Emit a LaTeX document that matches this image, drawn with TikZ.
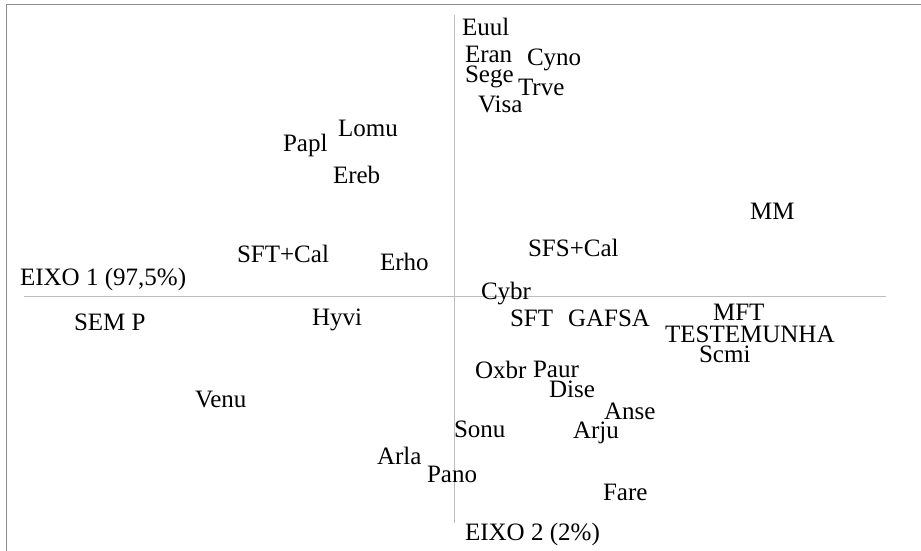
\documentclass[tikz,border=0pt]{standalone}
\usepackage{fontspec}
\setmainfont{Liberation Serif}
\usetikzlibrary{positioning}
\definecolor{moldura}{HTML}{8C8C8C}
\definecolor{cinzaeixo}{HTML}{BDBDBD}
\tikzset
{%
rot/.style={anchor=base west, inner sep=0pt, outer sep=0pt, font=\fontsize{17.8}{20}\selectfont},
eixo/.style={draw=cinzaeixo, line width=1.1pt},
borda/.style={draw=moldura, line width=1.1pt}
}

\begin{document}
\begin{tikzpicture}[x=0.025cm, y=-0.025cm]

	\useasboundingbox (0,0) rectangle (921,551);

	% moldura
	\coordinate (m1) at (6.5,551);
	\coordinate (m2) at (6.5,4.5);
	\coordinate (m3) at (921,4.5);
	\draw[borda] (m1) -- (m2) -- (m3);

	% eixos
	\coordinate (xa) at (24,296.5);
	\coordinate (xb) at (886,296.5);
	\coordinate (ya) at (454.5,15);
	\coordinate (yb) at (454.5,523);
	\draw[eixo] (xa) -- (xb);
	\draw[eixo] (ya) -- (yb);

	% rotulos dos eixos
	\node[rot] (e1) at (20,285) {EIXO 1 (97,5\%)};
	\node[rot] (e2) at (465,540) {EIXO 2 (2\%)};

	% tratamentos
	\node[rot] (semp) at (74,330) {SEM P};
	\node[rot] (sftcal) at (237,263) {SFT+Cal};
	\node[rot] (sfscal) at (528,257) {SFS+Cal};
	\node[rot] (sft) at (510,326) {SFT};
	\node[rot] (gafsa) at (568,326) {GAFSA};
	\node[rot] (mm) at (750,220) {MM};
	\node[rot] (mft) at (713,320) {MFT};
	\node[rot] (test) at (665,342) {TESTEMUNHA};

	% especies - quadrante superior direito
	\node[rot] (euul) at (462,36) {Euul};
	\node[rot] (eran) at (465,63) {Eran};
	\node[rot] (cyno) at (527,66) {Cyno};
	\node[rot] (sege) at (465,83) {Sege};
	\node[rot] (trve) at (518,96) {Trve};
	\node[rot] (visa) at (478,113) {Visa};
	\node[rot] (cybr) at (481,299) {Cybr};

	% especies - quadrante superior esquerdo
	\node[rot] (lomu) at (338,137) {Lomu};
	\node[rot] (papl) at (283,152) {Papl};
	\node[rot] (ereb) at (333,184) {Ereb};
	\node[rot] (erho) at (380,270) {Erho};

	% especies - quadrante inferior esquerdo
	\node[rot] (hyvi) at (312,325) {Hyvi};
	\node[rot] (venu) at (195,407) {Venu};
	\node[rot] (arla) at (377,464) {Arla};
	\node[rot] (pano) at (427,482) {Pano};

	% especies - quadrante inferior direito
	\node[rot] (scmi) at (699,362) {Scmi};
	\node[rot] (oxbr) at (475,378) {Oxbr};
	\node[rot] (paur) at (533,377) {Paur};
	\node[rot] (dise) at (549,397) {Dise};
	\node[rot] (anse) at (604,419) {Anse};
	\node[rot] (sonu) at (454,437) {Sonu};
	\node[rot] (arju) at (573,438) {Arju};
	\node[rot] (fare) at (603,500) {Fare};

\end{tikzpicture}
\end{document}
